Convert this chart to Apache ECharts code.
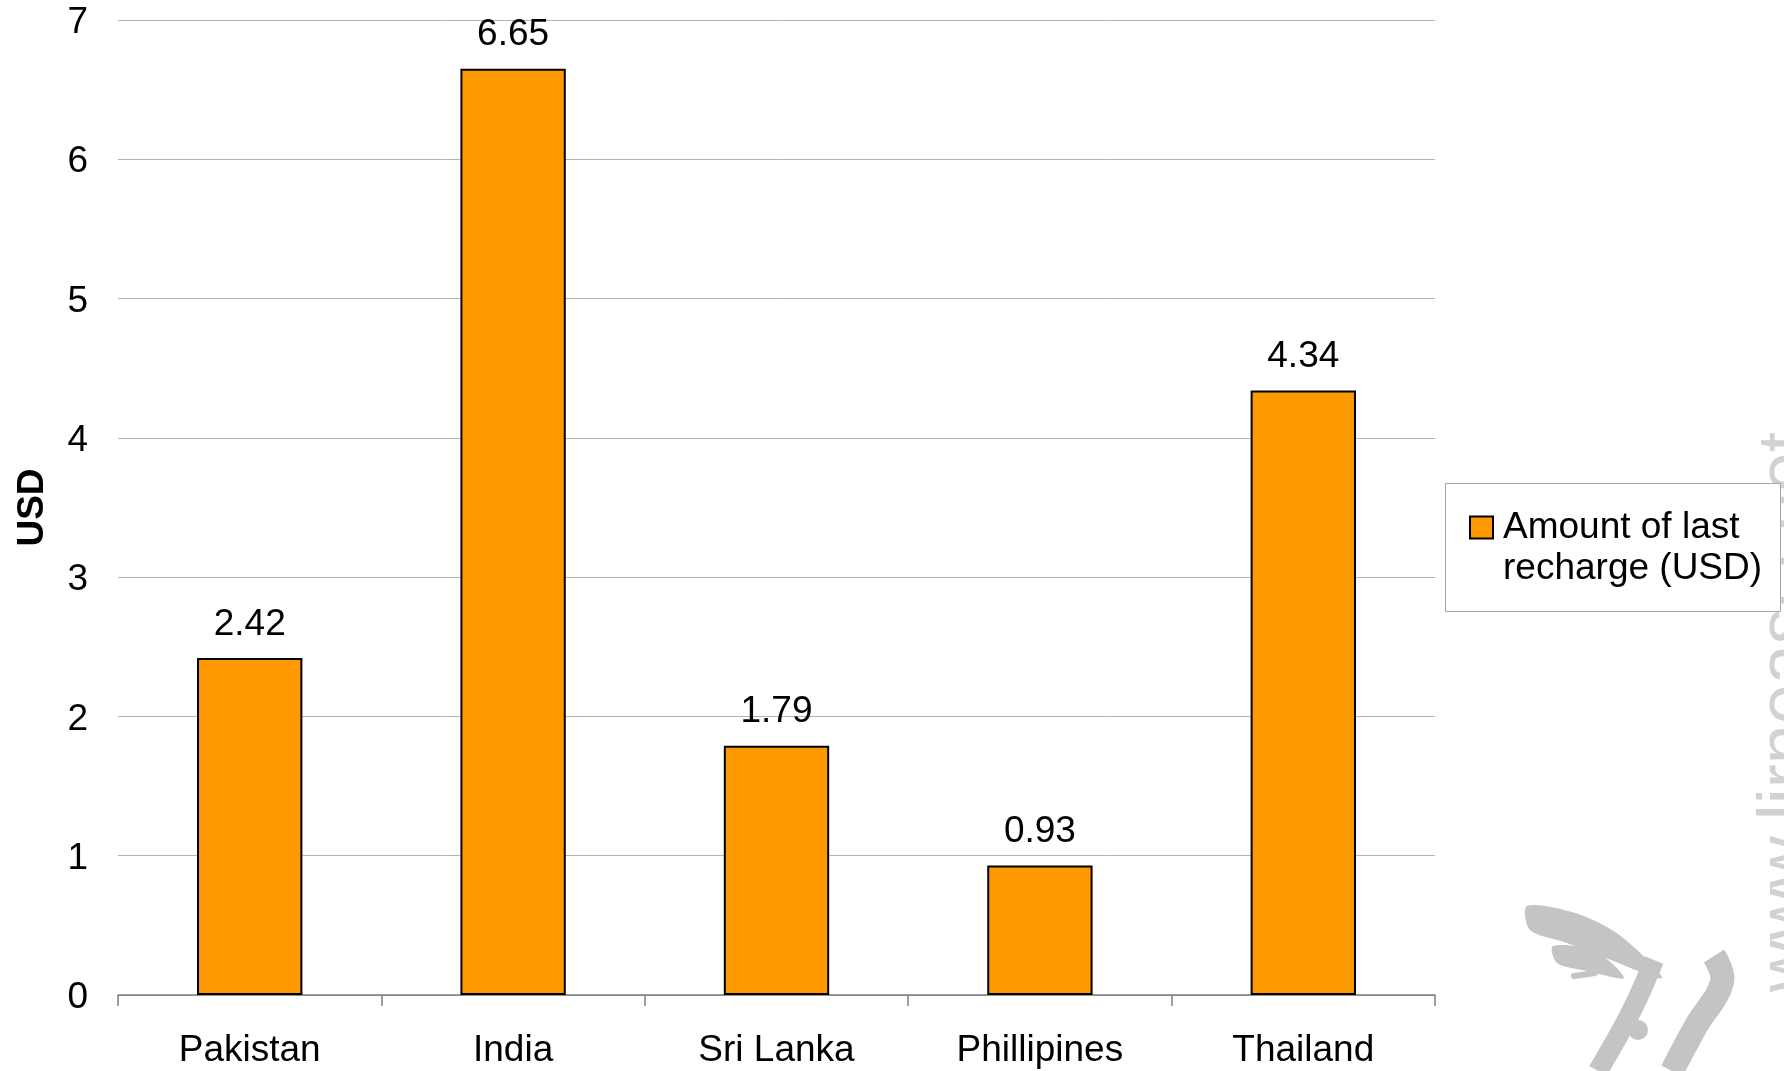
<!DOCTYPE html>
<html>
<head>
<meta charset="utf-8">
<title>Amount of last recharge (USD)</title>
<script src="https://cdn.jsdelivr.net/npm/echarts@6/dist/echarts.min.js"></script>
<style>
  html, body { margin: 0; padding: 0; background: #fff; }
  #recharge-chart { width: 1784px; height: 1071px; }
</style>
</head>
<body>
<div id="recharge-chart"></div>
<script>
// chart data
const categories = ['Pakistan', 'India', 'Sri Lanka', 'Phillipines', 'Thailand'];
const rechargeUsd = [2.42, 6.65, 1.79, 0.93, 4.34];
const seriesName = 'Amount of last recharge (USD)';
const yMin = 0;
const yMax = 7;
const yStep = 1;

const FONT = '"Liberation Sans", Arial, sans-serif';

function initRechargeChart() {
    const chartDom = document.getElementById('recharge-chart');
    if (!chartDom) return;

    const chart = echarts.init(chartDom, null, { renderer: 'canvas' });

    const option = {
        animation: false,
        backgroundColor: '#ffffff',
        textStyle: { fontFamily: FONT },
        grid: {
            left: 118,
            right: 349,
            top: 20,
            bottom: 76
        },
        legend: {
            data: [seriesName],
            left: 1469,
            top: 466,
            padding: 0,
            orient: 'vertical',
            icon: 'rect',
            itemWidth: 23,
            itemHeight: 22,
            // empty first line keeps the marker level with "Amount of last"
            formatter: () => '\nAmount of last\nrecharge (USD)',
            textStyle: {
                fontFamily: FONT,
                fontSize: 37,
                lineHeight: 41,
                color: '#000',
                padding: [0, 0, 0, 5]
            }
        },
        xAxis: {
            type: 'category',
            data: categories,
            axisLine: { lineStyle: { color: '#7f7f7f', width: 1.5 } },
            axisTick: { show: true, length: 11, lineStyle: { color: '#7f7f7f', width: 1.5 } },
            axisLabel: { color: '#000', fontSize: 37, fontFamily: FONT, margin: 37 },
            splitLine: { show: false }
        },
        yAxis: {
            type: 'value',
            min: yMin,
            max: yMax,
            interval: yStep,
            name: 'USD',
            nameLocation: 'middle',
            nameRotate: 90,
            nameGap: 67,
            nameTextStyle: { fontSize: 37, fontWeight: 'bold', color: '#000', fontFamily: FONT },
            axisLine: { show: false },
            axisTick: { show: false },
            axisLabel: {
                color: '#000',
                fontSize: 37,
                fontFamily: FONT,
                margin: 30,
                formatter: '{v|{value}}',
                rich: { v: { fontSize: 37, fontFamily: FONT, color: '#000', padding: [6, 0, 0, 0] } }
            },
            splitLine: { lineStyle: { color: '#b3b3b3', width: 1 } }
        },
        series: [
            {
                name: seriesName,
                type: 'bar',
                data: rechargeUsd,
                barWidth: '40%',
                itemStyle: { color: '#ff9900', borderColor: '#000', borderWidth: 2 },
                label: {
                    show: true,
                    position: 'top',
                    distance: 15,
                    color: '#000',
                    fontSize: 37,
                    fontFamily: FONT
                }
            }
        ],
        graphic: [
            // watermark text, cut at the right edge
            {
                type: 'text',
                z: 0,
                x: 1752,
                y: 432,
                rotation: Math.PI / 2,
                style: {
                    text: 'www.lirneasia.net',
                    fontSize: 72,
                    fontFamily: FONT,
                    fill: '#d2d2d2',
                    align: 'right',
                    verticalAlign: 'top'
                }
            },
            // watermark logo (rough)
            {
                type: 'polygon',
                z: 0,
                shape: { points: [[1527, 906], [1572, 912], [1618, 934], [1662, 978], [1606, 958], [1564, 942], [1530, 930]], smooth: 0.3 },
                style: { fill: '#c4c4c4' }
            },
            {
                type: 'polygon',
                z: 0,
                shape: { points: [[1553, 946], [1595, 951], [1624, 978], [1587, 971], [1557, 963]], smooth: 0.3 },
                style: { fill: '#c4c4c4' }
            },
            {
                type: 'line',
                z: 0,
                shape: { x1: 1574, y1: 976, x2: 1595, y2: 973 },
                style: { stroke: '#c4c4c4', lineWidth: 6, lineCap: 'round' }
            },
            {
                type: 'polyline',
                z: 0,
                shape: { points: [[1654, 960], [1632, 1010], [1598, 1071]], smooth: 0.4 },
                style: { stroke: '#c4c4c4', lineWidth: 20, fill: null }
            },
            {
                type: 'polyline',
                z: 0,
                shape: { points: [[1714, 956], [1722, 982], [1696, 1026], [1672, 1071]], smooth: 0.4 },
                style: { stroke: '#c4c4c4', lineWidth: 24, fill: null }
            },
            {
                type: 'circle',
                z: 0,
                shape: { cx: 1638, cy: 1030, r: 10 },
                style: { fill: '#c4c4c4' }
            },
            // legend frame
            {
                type: 'rect',
                z: 1,
                shape: { x: 1445.5, y: 483.5, width: 335, height: 128 },
                style: { fill: '#ffffff', stroke: '#a6a6a6', lineWidth: 1 }
            }
        ]
    };

    chart.setOption(option);
    window.addEventListener('resize', () => chart.resize());
}

document.addEventListener('DOMContentLoaded', function() {
    if (typeof echarts === 'undefined') {
        console.error('ECharts not loaded');
        return;
    }
    try {
        initRechargeChart();
    } catch (error) {
        console.error('chart init failed:', error);
    }
});
</script>
</body>
</html>
